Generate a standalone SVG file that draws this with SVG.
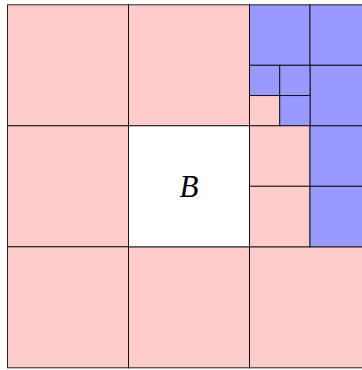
<svg xmlns="http://www.w3.org/2000/svg" width="362" height="370" viewBox="0 0 362 370">
<style>
.p{fill:#ffcccc;stroke:#000;stroke-width:1;stroke-opacity:0.85}
.b{fill:#9999ff;stroke:#000;stroke-width:1;stroke-opacity:0.85}
.w{fill:#ffffff;stroke:#000;stroke-width:1;stroke-opacity:0.85}
.lbl{font-family:"Liberation Serif","DejaVu Serif",serif;font-style:italic;font-size:31px;fill:#000}
</style>
<rect width="362" height="370" fill="#ffffff"/>
<g id="cells">
<rect class="p" x="7.5" y="4.8" width="121" height="121"/>
<rect class="p" x="128.5" y="4.8" width="121" height="121"/>
<rect class="p" x="7.5" y="125.8" width="121" height="121"/>
<rect class="p" x="7.5" y="246.8" width="121" height="121"/>
<rect class="p" x="128.5" y="246.8" width="121" height="121"/>
<rect class="p" x="249.5" y="246.8" width="121" height="121"/>
</g>
<g id="B">
<rect class="w" x="128.5" y="125.8" width="121" height="121"/>
<text class="lbl" x="189" y="197" text-anchor="middle">B</text>
</g>
<g id="topright">
<rect class="b" x="249.5" y="4.8" width="60.5" height="60.5"/>
<rect class="b" x="310" y="4.8" width="60.5" height="60.5"/>
<rect class="b" x="310" y="65.3" width="60.5" height="60.5"/>
<rect class="b" x="249.5" y="65.3" width="30.25" height="30.25"/>
<rect class="b" x="279.75" y="65.3" width="30.25" height="30.25"/>
<rect class="p" x="249.5" y="95.55" width="30.25" height="30.25"/>
<rect class="b" x="279.75" y="95.55" width="30.25" height="30.25"/>
</g>
<g id="midright">
<rect class="p" x="249.5" y="125.8" width="60.5" height="60.5"/>
<rect class="p" x="249.5" y="186.3" width="60.5" height="60.5"/>
<rect class="b" x="310" y="125.8" width="60.5" height="60.5"/>
<rect class="b" x="310" y="186.3" width="60.5" height="60.5"/>
</g>
</svg>
